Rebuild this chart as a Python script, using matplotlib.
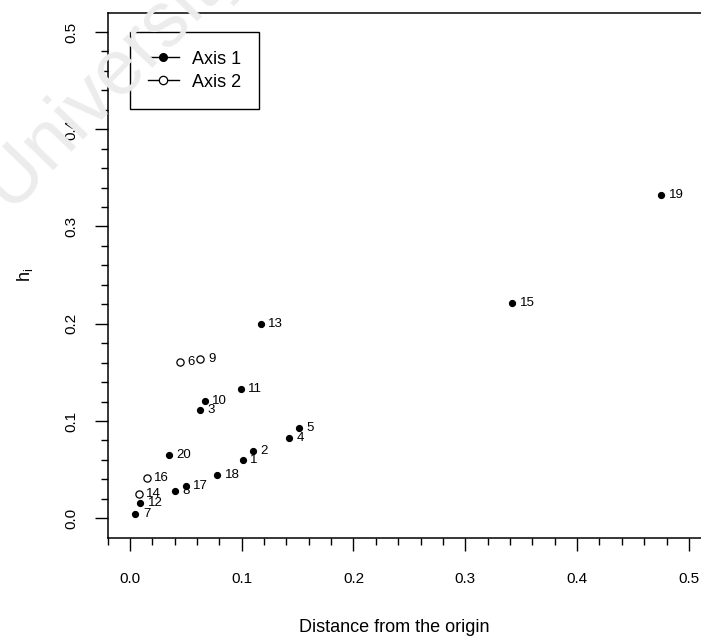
import matplotlib
matplotlib.use("Agg")
import matplotlib.pyplot as plt
from matplotlib.lines import Line2D
import numpy as np

plt.rcParams['font.family'] = ['Liberation Sans', 'DejaVu Sans']
plt.rcParams['mathtext.default'] = 'regular'

# observation number, distance from origin, h_i, which axis
obs_ids = [1, 2, 3, 4, 5, 6, 7, 8, 9, 10,
           11, 12, 13, 14, 15, 16, 17, 18, 19, 20]
dist = [0.101, 0.110, 0.063, 0.142, 0.151, 0.045, 0.005, 0.040, 0.063, 0.067,
        0.099, 0.009, 0.117, 0.008, 0.342, 0.015, 0.050, 0.078, 0.475, 0.035]
h_i = [0.060, 0.069, 0.111, 0.082, 0.093, 0.161, 0.004, 0.028, 0.164, 0.121,
       0.133, 0.016, 0.200, 0.025, 0.221, 0.041, 0.033, 0.044, 0.332, 0.065]
axis_no = [1, 1, 1, 1, 1, 2, 1, 1, 2, 1,
           1, 1, 1, 2, 1, 2, 1, 1, 1, 1]
legend_labels = ["Axis 1", "Axis 2"]

W, H = 701, 640
fig = plt.figure(figsize=(W / 100, H / 100), dpi=100)

# faint watermark behind the plot
fig.text(-0.045, 0.655, "University", rotation=46, fontsize=56, color='#ececec',
         ha='left', va='bottom', zorder=0)

ax = fig.add_axes([107.5 / W, 1 - 537.7 / H, (W - 107.5) / W, (537.7 - 12.5) / H])
ax.patch.set_alpha(0)

dist = np.array(dist)
h_i = np.array(h_i)
axis_no = np.array(axis_no)

m1 = axis_no == 1
m2 = axis_no == 2
ax.plot(dist[m1], h_i[m1], 'o', color='black', markersize=4.2, linestyle='none')
ax.plot(dist[m2], h_i[m2], 'o', mfc='white', mec='black', mew=0.9,
        markersize=5.2, linestyle='none')

for i, x, y in zip(obs_ids, dist, h_i):
    ax.annotate(str(i), (x, y), xytext=(5.5, 0), textcoords='offset points',
                va='center', ha='left', fontsize=9.5)

ax.set_xlim(-0.02, -0.02 + (W - 107.5) / 1118)
ax.set_ylim(-0.02, 0.52)

ax.set_xticks(np.arange(0, 0.51, 0.1))
ax.set_xticklabels(["0.0", "0.1", "0.2", "0.3", "0.4", "0.5"])
ax.set_xticks(np.arange(-0.02, 0.5, 0.02), minor=True)
ax.set_yticks(np.arange(0, 0.51, 0.1))
ax.set_yticklabels(["0.0", "0.1", "0.2", "0.3", "0.4", "0.5"],
                   rotation=90, va='center')
ax.set_yticks(np.arange(0.02, 0.5, 0.02), minor=True)

ax.tick_params(which='major', length=9.3, width=1.0, labelsize=11, pad=15.5)
ax.tick_params(axis='y', which='major', pad=12)
ax.tick_params(which='minor', length=4.8, width=1.0)
for s in ['left', 'bottom', 'top']:
    ax.spines[s].set_linewidth(1.1)
ax.spines['right'].set_visible(False)

ax.set_xlabel("Distance from the origin", fontsize=13, labelpad=24)
ax.xaxis.label.set_x(0.483)
ax.set_ylabel(r"$h_i$", fontsize=13, labelpad=21)

handles = [Line2D([0], [0], color='black', lw=1, marker='o', markersize=5.5),
           Line2D([0], [0], color='black', lw=1, marker='o', mfc='white',
                  mew=0.9, markersize=6)]
leg = ax.legend(handles, legend_labels, loc='upper left',
                bbox_to_anchor=((130 - 107.5) / (W - 107.5), (537.7 - 31.7) / (537.7 - 12.5)),
                borderaxespad=0, fontsize=13, frameon=True, fancybox=False,
                framealpha=1, borderpad=0.98, labelspacing=0.3, handlelength=1.75,
                handletextpad=0.7, handleheight=1.0)
leg.get_frame().set_edgecolor('black')
leg.get_frame().set_linewidth(1.0)

fig.savefig("out.png", dpi=100)
